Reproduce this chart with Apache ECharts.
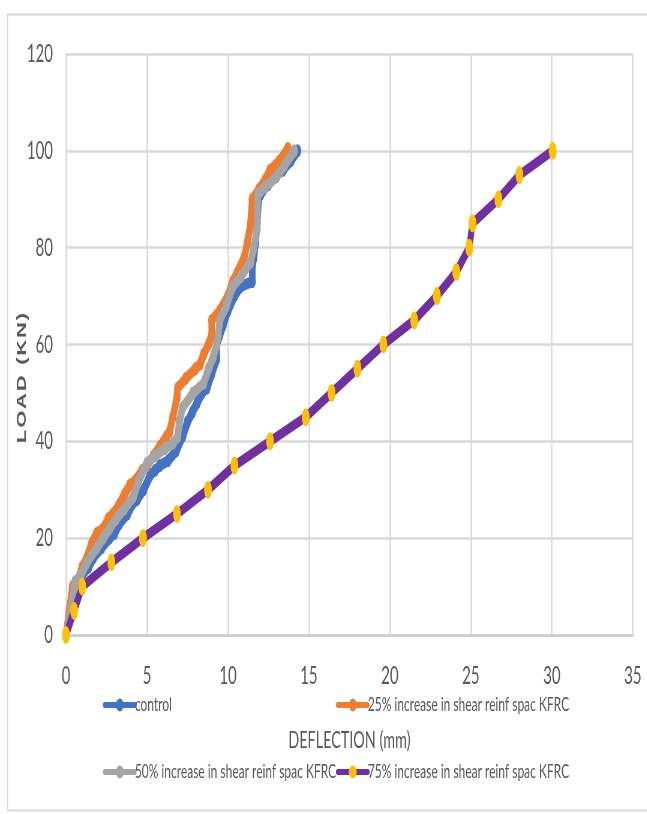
<!DOCTYPE html>
<html>
<head>
<meta charset="utf-8">
<script src="https://cdn.jsdelivr.net/npm/echarts@6/dist/echarts.min.js"></script>
<style>
html,body{margin:0;padding:0;background:#fff;overflow:hidden;width:647px;height:814px;}
#chart{width:1078px;height:814px;transform:scaleX(0.6);transform-origin:0 0;}
</style>
</head>
<body>
<div id="chart"></div>
<script>
// ---- data ----
var seriesNames = ['control', '25% increase in shear reinf spac KFRC', '50% increase in shear reinf spac KFRC', '75% increase in shear reinf spac KFRC'];

var controlX = [0, 0.3, 0.5, 0.9, 1.4, 1.7, 2.2, 2.7, 3.0, 3.3, 3.8, 4.1, 4.4, 4.8, 5.2, 5.5, 5.8, 6.3, 6.8, 7.2, 7.5, 7.8, 8.1, 8.4, 8.7, 9.0, 9.3, 9.3, 9.5, 9.7, 10.0, 10.4, 10.8, 11.5, 11.5, 11.6, 11.7, 11.8, 11.9, 12.2, 12.5, 13.0, 13.4, 13.9, 14.3];
var controlY = [0, 5, 10, 12, 14, 16, 18, 20, 21, 23, 25, 27, 28, 30, 33, 34, 35, 36, 38, 41, 44, 46, 48, 50, 51, 54, 57, 60, 62, 64, 67, 70, 72, 73, 76, 78, 81, 85, 90, 92, 93, 95, 96, 98, 100];

var s25X = [0, 0.2, 0.4, 0.7, 1.0, 1.3, 1.6, 1.9, 2.3, 2.6, 2.9, 3.3, 3.6, 3.95, 4.3, 4.7, 5.0, 5.4, 5.8, 6.2, 6.4, 6.6, 6.85, 6.9, 7.4, 8.0, 8.3, 8.5, 8.8, 9.0, 9.0, 9.5, 10.0, 10.3, 10.6, 11.0, 11.2, 11.4, 11.5, 11.9, 12.3, 12.6, 13.2, 13.7];
var s25Y = [0, 5, 10, 11, 14, 16, 19, 21, 22, 24, 25, 27, 29, 31, 32, 34, 35, 37, 39, 41, 42, 45, 49, 51, 53, 55, 56, 58, 60, 62, 65, 67, 70, 73, 75, 78, 81, 85, 90, 92, 94, 96, 98, 100.5];

var s50X = [0, 0.3, 0.55, 0.86, 1.3, 1.9, 2.3, 2.7, 3.1, 3.6, 4.15, 4.5, 5.0, 5.5, 6.1, 6.6, 6.9, 7.0, 7.2, 7.85, 8.5, 8.8, 9.1, 9.3, 9.4, 9.5, 9.9, 10.3, 10.8, 11.4, 11.6, 11.8, 11.85, 12.3, 13.0, 13.5, 14.1];
var s50Y = [0, 5, 11, 12, 15, 18, 20, 22, 24, 26, 28.5, 32, 35.5, 37, 38.5, 39.6, 41, 44, 47, 50, 52, 55, 57.5, 60, 62, 65, 68, 72, 74, 77, 80, 84, 91, 92.5, 94.6, 97, 100];

var s75X = [0, 0.5, 1.0, 2.8, 4.75, 6.85, 8.77, 10.4, 12.6, 14.8, 16.4, 18.0, 19.6, 21.5, 22.9, 24.1, 24.9, 25.1, 26.7, 28.0, 30.05];
var s75Y = [0, 5, 10, 15, 20, 25, 30, 35, 40, 45, 50, 55, 60, 65, 70, 75, 80, 85, 90, 95, 100];

var xTicks = {min: 0, max: 35, interval: 5};
var yTicks = {min: 0, max: 120, interval: 20};

function pairs(xs, ys) { return xs.map(function (x, i) { return [x, ys[i]]; }); }

// the reference is a horizontally squashed picture: draw wide, then squash by S
var S = 0.6;
function hx(px) { return px / S; }

var FONT = "Lato, 'Open Sans', sans-serif";
var lineColors = ['#4472c4', '#ed7d31', '#a5a5a5', '#7030a0'];
var markColors = ['#4472c4', '#ed7d31', '#a5a5a5', '#ffc000'];
var dataSets = [pairs(controlX, controlY), pairs(s25X, s25Y), pairs(s50X, s50Y), pairs(s75X, s75Y)];

var chart = echarts.init(document.getElementById('chart'), null, {renderer: 'canvas'});

var series = dataSets.map(function (d, i) {
  return {
    name: seriesNames[i],
    type: 'line',
    data: d,
    showAllSymbol: true,
    symbol: 'circle',
    symbolSize: i === 3 ? [13, 18] : [12, 13],
    lineStyle: {color: lineColors[i], width: i === 3 ? 10 : 11, join: 'round', cap: 'round'},
    itemStyle: {color: markColors[i], borderWidth: 0},
    animation: false,
    z: 2 + i
  };
});

function legendAt(name, left, top) {
  return {
    data: [name],
    left: hx(left), top: top,
    orient: 'horizontal',
    itemWidth: hx(30), itemHeight: 16, itemGap: 2,
    selectedMode: false,
    lineStyle: {width: 6},
    textStyle: {color: '#595959', fontSize: 20, fontFamily: FONT, padding: [0, 0, 0, -5]}
  };
}

chart.setOption({
  animation: false,
  backgroundColor: '#fff',
  grid: {left: hx(66), right: hx(14), top: 54, bottom: 179, containLabel: false},
  xAxis: {
    type: 'value', min: xTicks.min, max: xTicks.max, interval: xTicks.interval,
    name: 'DEFLECTION (mm)', nameLocation: 'middle', nameGap: 93,
    nameTextStyle: {color: '#595959', fontSize: 24, fontFamily: FONT},
    axisLine: {show: true, lineStyle: {color: '#d0d0d0', width: 3}},
    axisTick: {show: false},
    axisLabel: {color: '#595959', fontSize: 25, fontFamily: FONT, margin: 28},
    splitLine: {show: true, lineStyle: {color: '#d9d9d9', width: 2.5}}
  },
  yAxis: {
    type: 'value', min: yTicks.min, max: yTicks.max, interval: yTicks.interval,
    axisLine: {show: false},
    axisTick: {show: false},
    axisLabel: {color: '#595959', fontSize: 25, fontFamily: FONT, margin: hx(13)},
    splitLine: {show: true, lineStyle: {color: '#d9d9d9', width: 2.5}}
  },
  legend: [
    legendAt(seriesNames[0], 100, 690),
    legendAt(seriesNames[1], 333, 690),
    legendAt(seriesNames[2], 100, 757),
    legendAt(seriesNames[3], 333, 757)
  ],
  graphic: [
    {type: 'rect', left: hx(6), top: 12, shape: {width: hx(700), height: 796}, style: {fill: 'none', stroke: '#d9d9d9', lineWidth: 2}, silent: true, z: -10},
    {type: 'text', x: hx(22), y: 378, rotation: Math.PI / 2,
     style: {text: 'L\u200aO\u200aA\u200aD\u2009 (\u200aK\u200aN\u200a)', fill: '#595959', font: "bold 22px 'Liberation Sans', sans-serif", align: 'center', verticalAlign: 'middle'}}
  ],
  series: series
});
</script>
</body>
</html>
